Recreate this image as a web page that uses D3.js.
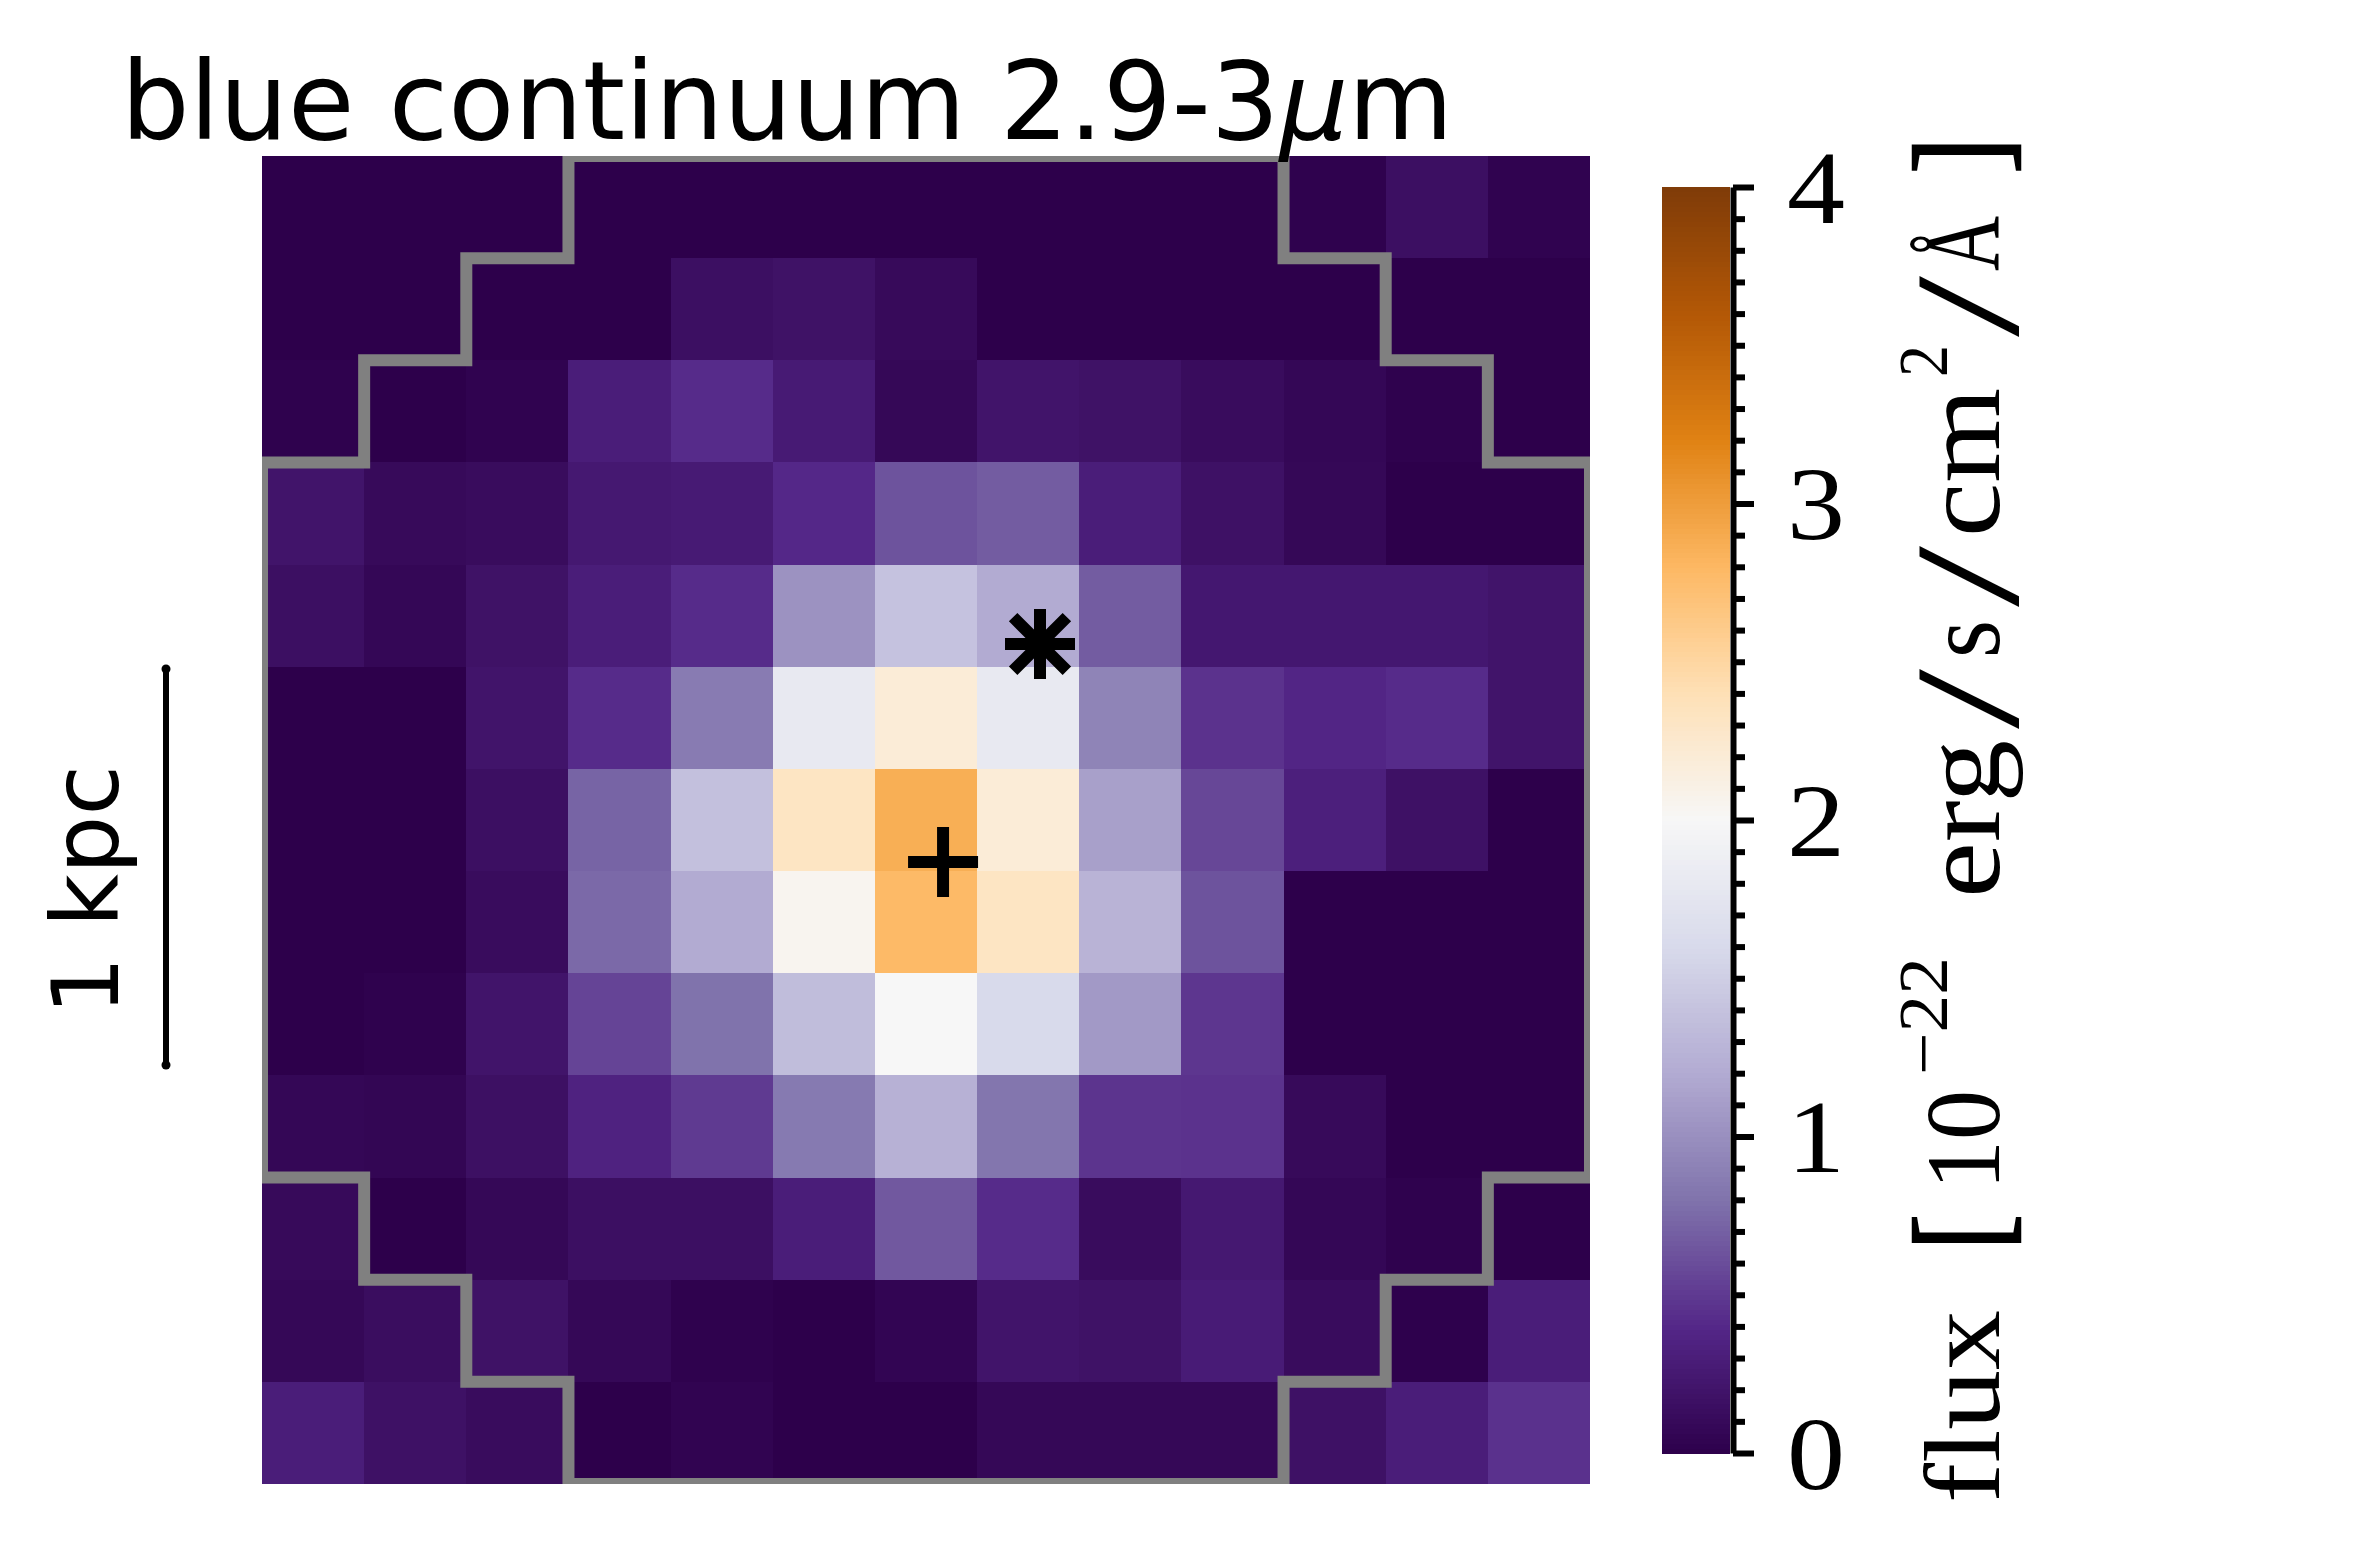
<!DOCTYPE html>
<html>
<head>
<meta charset="utf-8">
<script src="https://cdn.jsdelivr.net/npm/d3@7"></script>
<style>
  html, body { margin: 0; padding: 0; background: #fff; }
  svg { display: block; }
</style>
</head>
<body>
<svg id="chart"></svg>
<script>
// flux per spaxel, top row first, units of 1e-22
const fluxRows = [
  [0.00, 0.00, 0.00, 0.00, 0.00, 0.00, 0.00, 0.00, 0.00, 0.00, 0.02, 0.15, 0.03],
  [0.00, 0.00, 0.00, 0.00, 0.15, 0.18, 0.10, 0.00, 0.00, 0.00, 0.00, 0.00, 0.00],
  [0.02, 0.00, 0.03, 0.30, 0.42, 0.27, 0.08, 0.20, 0.18, 0.12, 0.07, 0.02, 0.00],
  [0.20, 0.10, 0.12, 0.25, 0.27, 0.40, 0.63, 0.68, 0.30, 0.17, 0.08, 0.00, 0.00],
  [0.15, 0.07, 0.18, 0.30, 0.42, 1.02, 1.40, 1.20, 0.68, 0.24, 0.24, 0.24, 0.20],
  [0.00, 0.00, 0.20, 0.42, 0.86, 1.80, 2.20, 1.80, 0.92, 0.46, 0.38, 0.42, 0.20],
  [0.00, 0.00, 0.15, 0.72, 1.38, 2.32, 2.87, 2.20, 1.12, 0.57, 0.32, 0.17, 0.00],
  [0.00, 0.00, 0.12, 0.75, 1.20, 2.05, 2.78, 2.32, 1.27, 0.63, 0.00, 0.00, 0.00],
  [0.00, 0.02, 0.20, 0.55, 0.80, 1.35, 2.00, 1.60, 1.07, 0.48, 0.00, 0.00, 0.00],
  [0.07, 0.06, 0.16, 0.35, 0.50, 0.85, 1.25, 0.82, 0.47, 0.46, 0.10, 0.00, 0.00],
  [0.10, 0.00, 0.08, 0.15, 0.15, 0.30, 0.66, 0.42, 0.12, 0.25, 0.07, 0.02, 0.00],
  [0.08, 0.13, 0.18, 0.08, 0.02, 0.00, 0.05, 0.20, 0.18, 0.28, 0.12, 0.01, 0.30],
  [0.30, 0.17, 0.12, 0.00, 0.04, 0.00, 0.00, 0.08, 0.08, 0.08, 0.17, 0.30, 0.45]
];

// outline of the aperture: first and last+1 column for each row
const maskStart = [3, 2, 1, 0, 0, 0, 0, 0, 0, 0, 1, 2, 3];
const maskEnd = [10, 11, 12, 13, 13, 13, 13, 13, 13, 13, 12, 11, 10];

// markers in pixel grid coordinates [col, row]
const plusMarker = [6.667, 6.91];
const starMarker = [7.616, 4.777];

const colorbarTicks = [0, 1, 2, 3, 4];
const colorbarMinorTicks = d3.range(0, 41).map(d => d / 10).filter(d => d % 1 !== 0);

const width = 2374, height = 1562;
const svg = d3.select("#chart").attr("width", width).attr("height", height);

const xScale = d3.scaleLinear().domain([0, 13]).range([262, 1590]);
const yScale = d3.scaleLinear().domain([0, 13]).range([156, 1484]);

// matplotlib PuOr_r is piecewise linear between these stops
const stops = d3.schemePuOr[11];
const zScale = d3.scaleLinear()
  .domain(stops.map((_, i) => i * 0.4))
  .range(stops)
  .interpolate(d3.interpolateRgb)
  .clamp(true);

const sans = "'DejaVu Sans', sans-serif";
const serif = "'Liberation Serif', serif";

// image
svg.append("g")
  .selectAll("g")
  .data(fluxRows)
  .join("g")
  .each(function (row, r) {
    d3.select(this).selectAll("rect")
      .data(row)
      .join("rect")
      .attr("x", (d, c) => xScale(c))
      .attr("y", yScale(r))
      .attr("width", (d, c) => xScale(c + 1) - xScale(c))
      .attr("height", yScale(r + 1) - yScale(r))
      .attr("fill", d => zScale(d))
      .attr("shape-rendering", "crispEdges");
  });

// aperture outline, clipped to the image so the edges come out half as thick
svg.append("clipPath").attr("id", "image-clip")
  .append("rect")
  .attr("x", xScale(0))
  .attr("y", yScale(0))
  .attr("width", xScale(13) - xScale(0))
  .attr("height", yScale(13) - yScale(0));

const outline = [];
maskEnd.forEach((e, r) => { outline.push([e, r], [e, r + 1]); });
maskStart.slice().reverse().forEach((s, i) => {
  const r = maskStart.length - 1 - i;
  outline.push([s, r + 1], [s, r]);
});

const line = d3.line().x(d => xScale(d[0])).y(d => yScale(d[1]));
svg.append("path")
  .attr("d", line(outline) + "Z")
  .attr("fill", "none")
  .attr("stroke", "#808080")
  .attr("stroke-width", 12)
  .attr("stroke-linejoin", "miter")
  .attr("clip-path", "url(#image-clip)");

// plus and star markers
function spokes(center, angles, radius) {
  const cx = xScale(center[0]), cy = yScale(center[1]);
  return angles.map(a => {
    const t = a * Math.PI / 180;
    return `M${cx - radius * Math.cos(t)},${cy - radius * Math.sin(t)}L${cx + radius * Math.cos(t)},${cy + radius * Math.sin(t)}`;
  }).join("");
}
svg.append("path")
  .attr("d", spokes(plusMarker, [0, 90], 35))
  .attr("stroke", "#000").attr("stroke-width", 12).attr("fill", "none");
svg.append("path")
  .attr("d", spokes(starMarker, [0, 90], 35) + spokes(starMarker, [45, 135], 38))
  .attr("stroke", "#000").attr("stroke-width", 12).attr("fill", "none");

// title
svg.append("text")
  .attr("x", 121).attr("y", 139)
  .attr("font-family", sans)
  .attr("font-size", 108)
  .text("blue continuum 2.9-3")
  .append("tspan").attr("font-style", "italic").text("\u03bc")
  .select(function () { return this.parentNode; })
  .append("tspan").text("m");

// scale bar
svg.append("line")
  .attr("x1", 166).attr("x2", 166)
  .attr("y1", 669).attr("y2", 1065)
  .attr("stroke", "#000").attr("stroke-width", 6);
svg.append("g").selectAll("circle")
  .data([669, 1065])
  .join("circle")
  .attr("cx", 166).attr("cy", d => d).attr("r", 4.5).attr("fill", "#000");
svg.append("text")
  .attr("transform", "translate(118,1015) rotate(-90)")
  .attr("font-family", sans)
  .attr("font-size", 92)
  .text("1 kpc");

// colorbar
const cScale = d3.scaleLinear().domain([0, 4]).range([1453, 187]);
const bands = d3.range(256).map(i => i / 256 * 4);
svg.append("g")
  .selectAll("rect")
  .data(bands)
  .join("rect")
  .attr("x", 1662)
  .attr("width", 68)
  .attr("y", d => cScale(d + 4 / 256))
  .attr("height", d => cScale(d) - cScale(d + 4 / 256) + 0.5)
  .attr("fill", d => zScale(d + 2 / 256))
  .attr("shape-rendering", "crispEdges");

const minorAxis = svg.append("g")
  .attr("transform", "translate(1733,0)")
  .call(d3.axisRight(cScale).tickValues(colorbarMinorTicks).tickSize(12).tickFormat(""));
minorAxis.select(".domain").remove();
minorAxis.selectAll("line").attr("stroke", "#000").attr("stroke-width", 6);

const majorAxis = svg.append("g")
  .attr("transform", "translate(1733,0)")
  .call(d3.axisRight(cScale).tickValues(colorbarTicks).tickSize(21).tickSizeOuter(0).tickFormat(d3.format("d")));
majorAxis.select(".domain").attr("stroke", "#000").attr("stroke-width", 6);
majorAxis.selectAll("line").attr("stroke", "#000").attr("stroke-width", 6);
majorAxis.selectAll("text")
  .attr("x", 83)
  .attr("dy", 35)
  .attr("text-anchor", "middle")
  .attr("font-family", serif)
  .attr("font-size", 104)
  .attr("textLength", 58)
  .attr("lengthAdjust", "spacingAndGlyphs")
  .attr("fill", "#000");

// colorbar label, rotated; each piece placed along the axis
const labelPieces = [
  { text: "flux", y: 1503, len: 193, x: 1999, size: 108 },
  { text: "[", y: 1250, len: 36, x: 2002.5, size: 130, stroke: 2.5 },
  { text: "10", y: 1190, len: 100, x: 1999, size: 106 },
  { text: "\u221222", y: 1075, len: 118, x: 1947, size: 70 },
  { text: "erg", y: 898, len: 158, x: 1999, size: 112 },
  { text: "/", y: 729, len: 60, x: 2018, size: 149 },
  { text: "s", y: 658, len: 38, x: 1999, size: 108 },
  { text: "/", y: 607, len: 61, x: 2018, size: 149 },
  { text: "cm", y: 537, len: 149, x: 1999, size: 112 },
  { text: "2", y: 377, len: 32, x: 1947, size: 70 },
  { text: "/", y: 337, len: 61, x: 2018, size: 149 },
  { text: "\u00c5", y: 271, len: 55, x: 1999, size: 108 },
  { text: "]", y: 173.5, len: 36, x: 2002.5, size: 130, stroke: 2.5 }
];
svg.append("g")
  .selectAll("text")
  .data(labelPieces)
  .join("text")
  .attr("transform", d => `translate(${d.x},${d.y}) rotate(-90)`)
  .attr("font-family", serif)
  .attr("font-size", d => d.size)
  .attr("stroke", d => d.stroke ? "#000" : "none")
  .attr("stroke-width", d => d.stroke || 0)
  .attr("textLength", d => d.len)
  .attr("lengthAdjust", "spacingAndGlyphs")
  .text(d => d.text);
</script>
</body>
</html>
